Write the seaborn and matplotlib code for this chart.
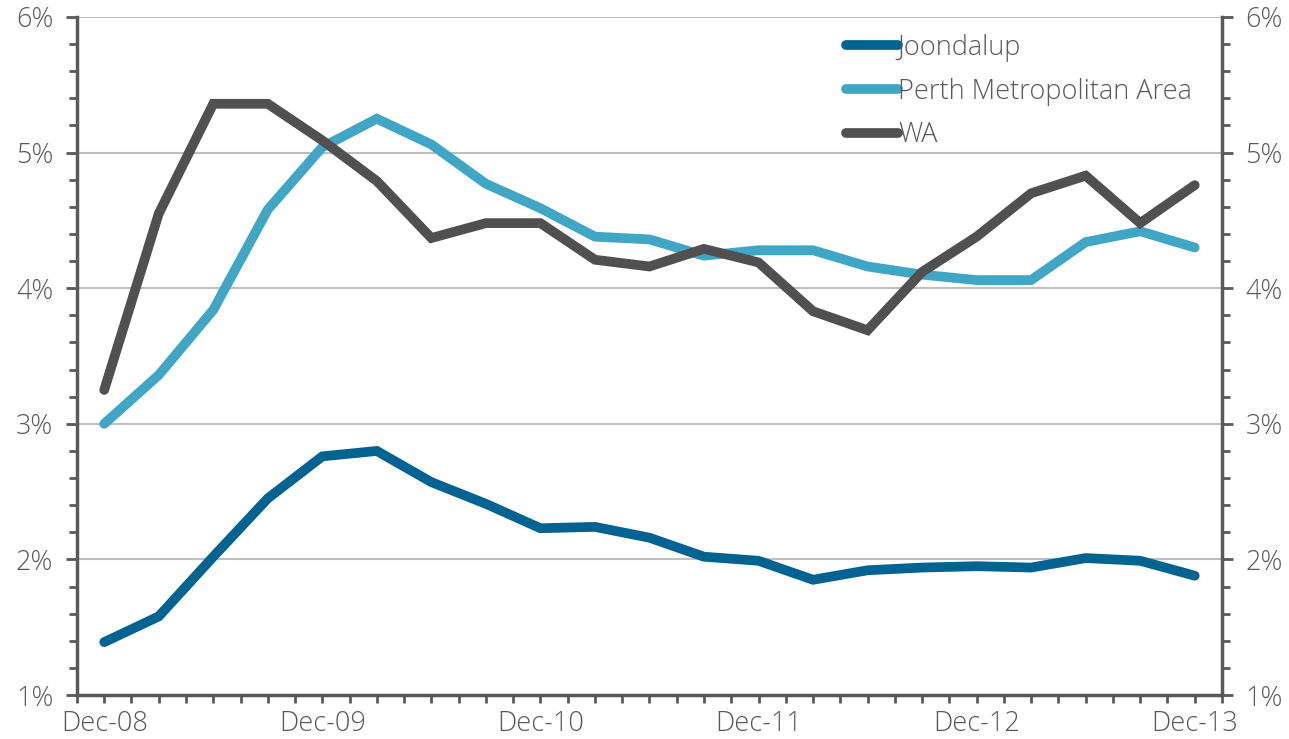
import numpy as np
import pandas as pd
import matplotlib
matplotlib.use("Agg")
import matplotlib.pyplot as plt
from matplotlib.ticker import MultipleLocator, FuncFormatter
import seaborn as sns

# ---- data (quarterly, Dec-08 .. Dec-13) ----
quarters = ["Dec-08", "Mar-09", "Jun-09", "Sep-09",
            "Dec-09", "Mar-10", "Jun-10", "Sep-10",
            "Dec-10", "Mar-11", "Jun-11", "Sep-11",
            "Dec-11", "Mar-12", "Jun-12", "Sep-12",
            "Dec-12", "Mar-13", "Jun-13", "Sep-13", "Dec-13"]

joondalup = [1.39, 1.58, 2.02, 2.45, 2.76, 2.80, 2.57, 2.41, 2.23, 2.24, 2.16,
             2.02, 1.99, 1.85, 1.92, 1.94, 1.95, 1.94, 2.01, 1.99, 1.88]
perth = [3.00, 3.36, 3.84, 4.58, 5.04, 5.25, 5.06, 4.77, 4.59, 4.38, 4.36,
         4.24, 4.28, 4.28, 4.16, 4.10, 4.06, 4.06, 4.34, 4.42, 4.30]
wa = [3.25, 4.55, 5.36, 5.36, 5.09, 4.79, 4.37, 4.48, 4.48, 4.21, 4.16,
      4.29, 4.19, 3.83, 3.69, 4.12, 4.38, 4.70, 4.83, 4.48, 4.76]

series_names = ["Joondalup", "Perth Metropolitan Area", "WA"]
colors = ["#006391", "#40A6C6", "#505050"]

df = pd.DataFrame({
    "q": list(range(len(quarters))) * 3,
    "rate": joondalup + perth + wa,
    "series": np.repeat(series_names, len(quarters)),
})

# ---- style ----
sns.set_theme(style="white")
plt.rcParams["font.family"] = ["Open Sans", "DejaVu Sans"]
plt.rcParams["font.weight"] = "light"
text_col = "#595959"
fs = 19.5

fig = plt.figure(figsize=(12.89, 7.39), dpi=100)
ax = fig.add_axes([0.0597, 0.0595, 0.8883, 0.9175])

sns.lineplot(data=df, x="q", y="rate", hue="series", hue_order=series_names,
             palette=colors, linewidth=7, ax=ax, legend=True)
for line in ax.get_lines():
    line.set_solid_capstyle("round")
    line.set_solid_joinstyle("miter")

ax.set_xlim(-0.5, len(quarters) - 0.5)
ax.set_ylim(1, 6)

# y axis on both sides
ax.yaxis.set_major_locator(MultipleLocator(1))
ax.yaxis.set_minor_locator(MultipleLocator(0.2))
ax.yaxis.set_major_formatter(FuncFormatter(lambda v, p: f"{v:.0f}%"))
ax.tick_params(axis="y", which="both", left=True, right=True,
               labelleft=True, labelright=True, direction="out",
               color=text_col, width=2, labelsize=fs, labelcolor=text_col, pad=9)
ax.tick_params(axis="y", which="major", length=8)
ax.tick_params(axis="y", which="minor", length=6)

# x axis: label every December, small ticks every half quarter
ax.set_xticks(range(0, len(quarters), 4))
ax.set_xticklabels(quarters[::4])
ax.set_xticks(np.arange(-0.5, len(quarters), 0.5), minor=True)
ax.tick_params(axis="x", which="both", bottom=True, direction="out",
               length=6, width=2, color=text_col, labelsize=fs,
               labelcolor=text_col, pad=5)

ax.set_xlabel("")
ax.set_ylabel("")

ax.grid(axis="y", which="major", color="#BFBFBF", linewidth=1.5)
ax.grid(axis="x", visible=False)
ax.set_axisbelow(True)

for side in ["left", "right", "bottom"]:
    ax.spines[side].set_visible(True)
    ax.spines[side].set_color(text_col)
    ax.spines[side].set_linewidth(2.5)
ax.spines["top"].set_visible(False)

leg = ax.legend(loc="upper left", bbox_to_anchor=(0.672, 0.975), frameon=False,
                fontsize=fs, handlelength=1.9, handletextpad=0.0,
                labelspacing=0.58, borderpad=0, borderaxespad=0)
for t in leg.get_texts():
    t.set_color(text_col)
for h in leg.legend_handles:
    h.set_linewidth(7)
    h.set_solid_capstyle("round")

fig.savefig("out.png", dpi=100)
